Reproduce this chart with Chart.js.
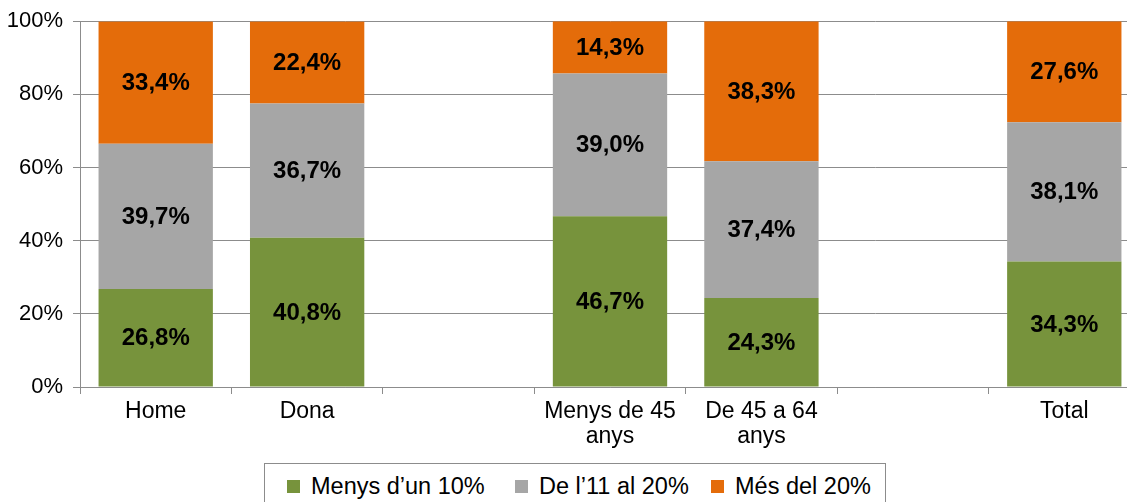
<!DOCTYPE html>
<html lang="ca">
<head>
    <meta charset="UTF-8">
    <title>Distribució per sexe i edat</title>
    <script src="https://cdn.jsdelivr.net/npm/chart.js@4.4.1/dist/chart.umd.min.js"></script>
    <style>
        html, body { margin: 0; padding: 0; background: #fff; overflow: hidden; }
        .wrap { position: relative; width: 1127px; height: 502px; overflow: hidden; }
        #chart { position: absolute; left: 0; top: -2px; }
        .legend {
            position: absolute; left: 264px; top: 463px; width: 622px; height: 44px;
            border: 1px solid #8c8c8c; box-sizing: border-box;
            font-family: "Liberation Sans", Arial, sans-serif; font-size: 23.5px; color: #000;
        }
        .legend span.item { position: absolute; top: 9px; white-space: nowrap; }
        .legend i { display: inline-block; width: 13px; height: 13px; margin-right: 11px; vertical-align: 1px; }
    </style>
</head>
<body>
    <div class="wrap">
        <canvas id="chart" width="1140" height="460"></canvas>
        <div class="legend" id="legend"></div>
    </div>

    <script>
        const labels = ['Home', 'Dona', '', ['Menys de 45', 'anys'], ['De 45 a 64', 'anys'], '', 'Total'];

        const series = [
            { label: 'Menys d\u2019un 10%', color: '#77933C', data: [26.8, 40.8, null, 46.7, 24.3, null, 34.3] },
            { label: 'De l\u201911 al 20%', color: '#A6A6A6', data: [39.7, 36.7, null, 39.0, 37.4, null, 38.1] },
            { label: 'Més del 20%', color: '#E46C0A', data: [33.4, 22.4, null, 14.3, 38.3, null, 27.6] }
        ];

        const gridColor = '#8c8c8c';
        const font = "'Liberation Sans', Arial, sans-serif";

        // etiquetes dins de cada segment
        const valueLabels = {
            id: 'valueLabels',
            afterDatasetsDraw(chart) {
                const ctx = chart.ctx;
                ctx.save();
                ctx.font = 'bold 24px ' + font;
                ctx.fillStyle = '#000';
                ctx.textAlign = 'center';
                ctx.textBaseline = 'middle';
                chart.data.datasets.forEach((ds, i) => {
                    chart.getDatasetMeta(i).data.forEach((bar, j) => {
                        const v = ds.data[j];
                        if (v == null) return;
                        const y = (bar.y + bar.base) / 2;
                        ctx.fillText(v.toFixed(1).replace('.', ',') + '%', bar.x, y + 1);
                    });
                });
                ctx.restore();
            }
        };

        new Chart(document.getElementById('chart').getContext('2d'), {
            type: 'bar',
            data: {
                labels: labels,
                datasets: series.map(s => ({
                    label: s.label,
                    data: s.data,
                    backgroundColor: s.color,
                    borderWidth: 0,
                    barPercentage: 0.755,
                    categoryPercentage: 1
                }))
            },
            options: {
                responsive: false,
                animation: false,
                layout: { padding: { top: 15, left: 0, right: 0, bottom: 0 } },
                plugins: {
                    legend: { display: false },
                    tooltip: { enabled: false }
                },
                scales: {
                    x: {
                        stacked: true,
                        afterFit: scale => { scale.height = 71; },
                        grid: {
                            offset: true,
                            drawOnChartArea: false,
                            drawTicks: true,
                            tickLength: 7,
                            color: gridColor
                        },
                        border: { color: gridColor, width: 1 },
                        ticks: {
                            color: '#000',
                            padding: 5,
                            maxRotation: 0,
                            autoSkip: false,
                            font: { family: font, size: 23, lineHeight: 1.1 }
                        }
                    },
                    y: {
                        stacked: true,
                        min: 0,
                        max: 100,
                        afterFit: scale => { scale.width = 80; },
                        grid: { color: gridColor, tickLength: 7 },
                        border: { color: gridColor, width: 1 },
                        ticks: {
                            stepSize: 20,
                            color: '#000',
                            padding: 10,
                            font: { family: font, size: 22 },
                            callback: v => v + '%'
                        }
                    }
                }
            },
            plugins: [valueLabels]
        });

        // llegenda
        const legend = document.getElementById('legend');
        const itemLeft = [22, 250, 446];
        series.forEach((s, i) => {
            const item = document.createElement('span');
            item.className = 'item';
            item.style.left = itemLeft[i] + 'px';
            item.innerHTML = `<i style="background:${s.color}"></i>${s.label}`;
            legend.appendChild(item);
        });
    </script>
</body>
</html>
